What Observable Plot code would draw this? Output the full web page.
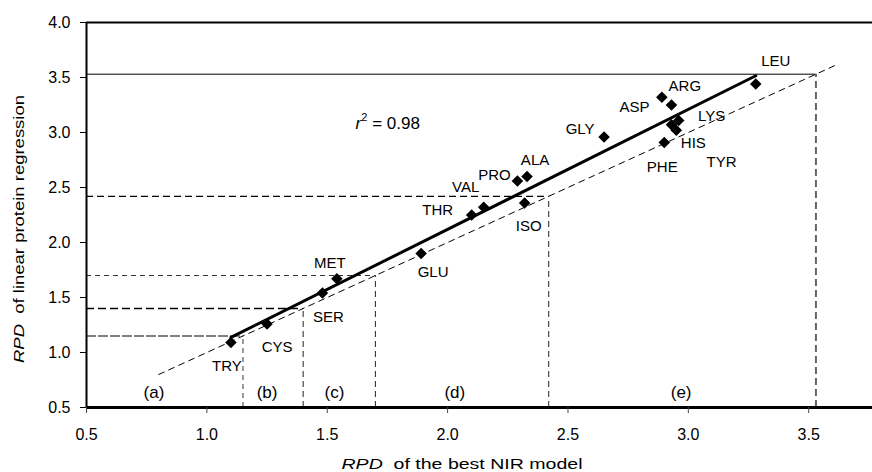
<!DOCTYPE html>
<html>
<head>
<meta charset="utf-8">
<script src="https://cdn.jsdelivr.net/npm/d3@7"></script>
<script src="https://cdn.jsdelivr.net/npm/@observablehq/plot@0.6"></script>
<style>
  body { margin: 0; background: #fff; }
  #chart svg { font-family: "Liberation Sans", Arial, sans-serif; display: block; }
</style>
</head>
<body>
<div id="chart"></div>
<script>
// ---- data ----
const aminoAcids = ["TRY","CYS","SER","MET","GLU","THR","VAL","PRO","ALA","ISO","GLY","ASP","ARG","LYS","TYR","HIS","PHE","LEU"];
const rpdNIR     = [1.10, 1.25, 1.48, 1.54, 1.89, 2.10, 2.15, 2.29, 2.33, 2.32, 2.65, 2.93, 2.89, 2.96, 2.93, 2.95, 2.90, 3.28];
const rpdLinear  = [1.09, 1.26, 1.54, 1.67, 1.90, 2.25, 2.32, 2.56, 2.60, 2.36, 2.96, 3.25, 3.32, 3.11, 3.07, 3.02, 2.91, 3.44];
const thresholds = [1.15, 1.40, 1.70, 2.42, 3.53];
const regionLabels  = ["(a)", "(b)", "(c)", "(d)", "(e)"];
const regionCenters = [0.78, 1.25, 1.53, 2.03, 2.97];
const identityRange = [0.80, 3.61];
const xTicks = [0.5, 1.0, 1.5, 2.0, 2.5, 3.0, 3.5];
const yTicks = [0.5, 1.0, 1.5, 2.0, 2.5, 3.0, 3.5, 4.0];
const rSquared = 0.98;

// ---- build table ----
const points = aminoAcids.map((name, i) => ({name, x: rpdNIR[i], y: rpdLinear[i]}));
const regions = regionLabels.map((label, i) => ({label, x: regionCenters[i]}));

// label placement (pixel offsets from each diamond)
const labelOffsets = {
  TRY: [-4, 24], CYS: [10, 23], SER: [6, 24], MET: [-7, -16], GLU: [12, 19],
  THR: [-34, -5], VAL: [-18, -20], PRO: [-23, -6], ALA: [8, -16], ISO: [4, 23],
  GLY: [-24, -8], ASP: [-37, 2], ARG: [23, -11], LYS: [33, -4], HIS: [17, 13],
  TYR: [50, 37], PHE: [-2, 25], LEU: [20, -23]
};

// styles of the guide lines, in the order of thresholds
const hStyles = [
  {dash: "10,2", width: 1.2, color: "#000"},
  {dash: "8,4", width: 1.3, color: "#000"},
  {dash: "5,4", width: 1, color: "#333"},
  {dash: "7,4", width: 1.2, color: "#000"},
  {dash: null, width: 1, color: "#000"}
];
const vStyles = [
  {dash: "5,4", width: 1, color: "#333"},
  {dash: "6,4", width: 1, color: "#222"},
  {dash: "6,4", width: 1, color: "#222"},
  {dash: "6,4", width: 1, color: "#222"},
  {dash: "7,4", width: 2, color: "#666"}
];

const xMin = 0.5, yMin = 0.5, yMax = 4.0;

const guideMarks = [];
thresholds.forEach((t, i) => {
  guideMarks.push(Plot.ruleY([t], {y: d => d, x1: xMin, x2: d => d,
    stroke: hStyles[i].color, strokeWidth: hStyles[i].width, strokeDasharray: hStyles[i].dash}));
  guideMarks.push(Plot.ruleX([t], {x: d => d, y1: yMin, y2: d => d,
    stroke: vStyles[i].color, strokeWidth: vStyles[i].width, strokeDasharray: vStyles[i].dash}));
});

const labelMarks = points.map(p => Plot.text([p], {
  x: "x", y: "y", text: "name",
  dx: labelOffsets[p.name][0], dy: labelOffsets[p.name][1],
  fontSize: 15, fill: "#000"
}));

const plot = Plot.plot({
  width: 872,
  height: 472,
  marginLeft: 86,
  marginRight: 0,
  marginTop: 22,
  marginBottom: 65,
  style: {fontFamily: "'Liberation Sans', Arial, sans-serif", fontSize: "16px", color: "#000", background: "#fff"},
  x: {domain: [0.5, 3.765], axis: null},
  y: {domain: [0.5, 4.0], axis: null},
  marks: [
    ...guideMarks,
    Plot.line(identityRange, {x: d => d, y: d => d, stroke: "#000", strokeWidth: 1, strokeDasharray: "6,5"}),
    Plot.linearRegressionY(points, {x: "x", y: "y", ci: 0, stroke: "#000", strokeWidth: 3}),
    Plot.dot(points, {x: "x", y: "y", symbol: "diamond2", r: 5.2, fill: "#000", stroke: "none"}),
    ...labelMarks,
    Plot.text(regions, {x: "x", y: 0.64, text: "label", fontSize: 17, fill: "#000"}),
    Plot.ruleY([yMax], {stroke: "#000", strokeWidth: 2}),
    Plot.ruleY([yMin], {stroke: "#000", strokeWidth: 3}),
    Plot.ruleX([xMin], {stroke: "#000", strokeWidth: 2}),
    Plot.axisX(xTicks, {tickSize: 6, tickPadding: 15, tickFormat: d3.format(".1f"), label: null, stroke: "#444", fontSize: 16, letterSpacing: "1.5px"}),
    Plot.axisY(yTicks, {tickSize: 6, tickPadding: 10, tickFormat: d3.format(".1f"), label: null, stroke: "#000", fontSize: 16, letterSpacing: "1.5px"})
  ]
});

document.getElementById("chart").appendChild(plot);

// axis titles and r² annotation (mixed italic / superscript)
const svg = d3.select(plot);
const sx = plot.scale("x"), sy = plot.scale("y");

const yl = svg.append("text")
  .attr("transform", `translate(19, 229) rotate(-90)`)
  .attr("text-anchor", "middle").attr("dy", "0.35em")
  .attr("font-size", 15).attr("fill", "#000")
  .attr("textLength", 268).attr("lengthAdjust", "spacingAndGlyphs");
yl.append("tspan").attr("font-style", "italic").text("RPD");
yl.append("tspan").text("\u00a0 of linear protein regression");

const xl = svg.append("text")
  .attr("x", 462).attr("y", 469)
  .attr("text-anchor", "middle")
  .attr("font-size", 15).attr("fill", "#000")
  .attr("textLength", 241).attr("lengthAdjust", "spacingAndGlyphs");
xl.append("tspan").attr("font-style", "italic").text("RPD");
xl.append("tspan").text("\u00a0 of the best NIR model");

const r2 = svg.append("text")
  .attr("x", sx.apply(1.62)).attr("y", sy.apply(3.03))
  .attr("text-anchor", "start")
  .attr("font-size", 17).attr("fill", "#000");
r2.append("tspan").attr("font-style", "italic").text("r");
r2.append("tspan").attr("font-size", 11).attr("dy", -8).text("2");
r2.append("tspan").attr("dy", 8).text(" = " + rSquared.toFixed(2));
</script>
</body>
</html>
